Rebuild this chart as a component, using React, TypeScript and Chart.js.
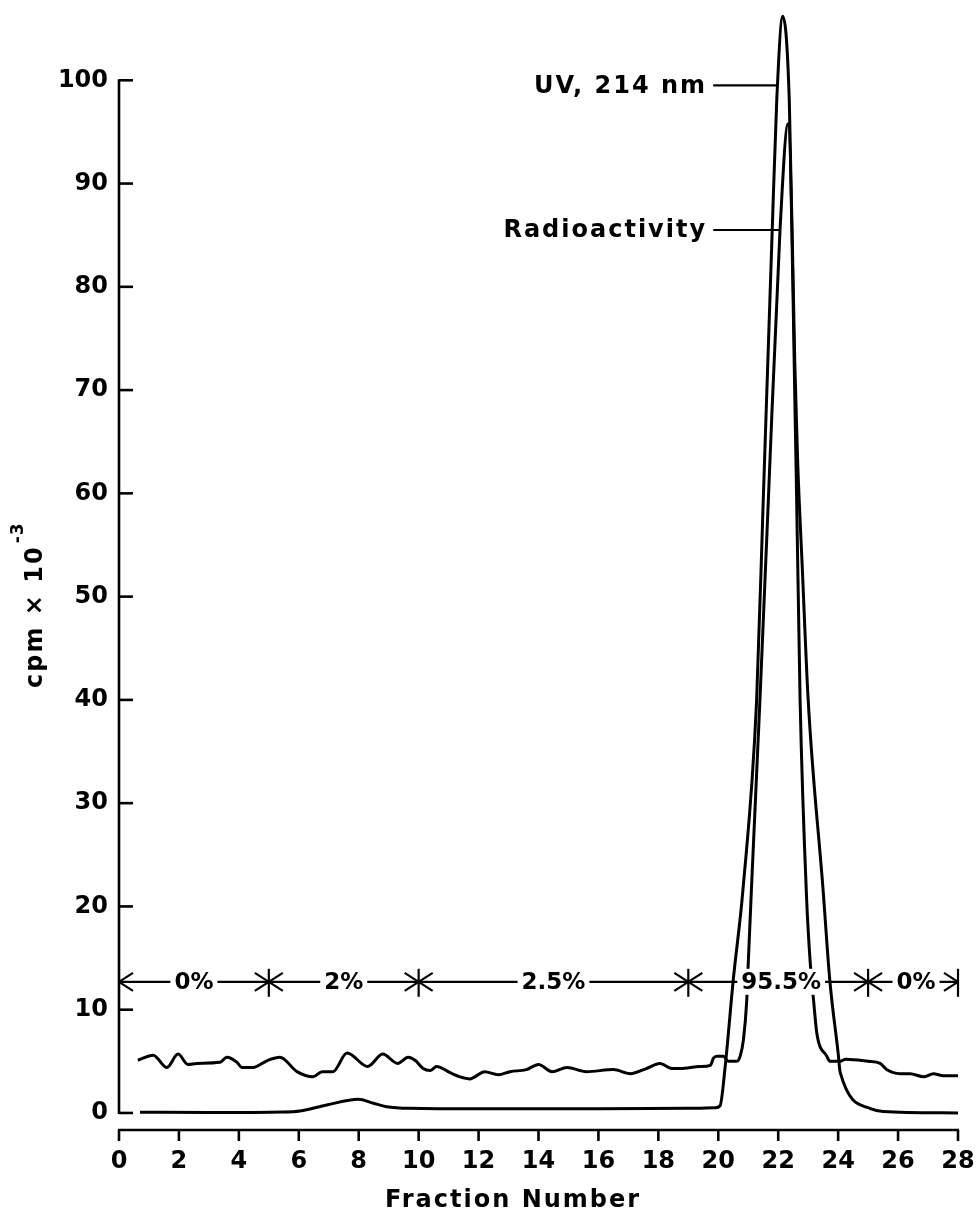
import React, { useEffect, useRef } from 'react';
import { Chart, registerables } from 'chart.js';

Chart.register(...registerables);

// ---- data ----
const uvX = [0.7, 3, 5.5, 6.04, 6.93, 7.99, 8.49, 8.93, 9.71, 12, 16, 19, 19.9, 20.06, 20.23, 20.5, 20.82, 21.28, 21.5, 21.8, 21.95, 22.15, 22.37, 22.55, 22.65, 22.8, 23.0, 23.5, 23.72, 24.0, 24.07, 25.1, 25.5, 28];
const uvY = [0.07, 0.05, 0.1, 0.2, 0.77, 1.33, 0.94, 0.61, 0.45, 0.4, 0.4, 0.45, 0.5, 0.7, 4.5, 12.9, 21.5, 40, 59.3, 85.5, 98, 106.2, 98, 73, 63, 53, 40, 21.5, 12.9, 5.8, 3.9, 0.4, 0.15, 0.0];

const radX = [0.63, 1.14, 1.6, 1.97, 2.3, 2.6, 3.37, 3.6, 3.94, 4.1, 4.47, 4.97, 5.37, 5.94, 6.48, 6.78, 7.14, 7.61, 8.3, 8.8, 9.3, 9.65, 9.88, 10.15, 10.38, 10.6, 11.05, 11.38, 11.72, 11.88, 12.2, 12.65, 13.05, 13.6, 14.0, 14.45, 14.95, 15.6, 16.5, 17.06, 17.6, 18.05, 18.46, 18.73, 19.39, 19.73, 19.84, 19.95, 20.17, 20.34, 20.62, 20.73, 20.84, 20.95, 21.0, 21.12, 21.39, 21.67, 22.06, 22.33, 22.6, 22.73, 22.95, 23.07, 23.18, 23.29, 23.62, 23.73, 24.07, 24.25, 25.0, 25.4, 25.62, 26.07, 26.4, 26.85, 27.18, 27.51, 28.0];
const radY = [5.1, 5.6, 4.4, 5.7, 4.7, 4.8, 4.9, 5.4, 4.9, 4.4, 4.4, 5.1, 5.4, 4.0, 3.5, 4.0, 4.0, 5.8, 4.5, 5.7, 4.8, 5.4, 5.1, 4.3, 4.1, 4.5, 3.9, 3.5, 3.3, 3.5, 4.0, 3.7, 4.0, 4.2, 4.7, 4.0, 4.4, 4.0, 4.2, 3.8, 4.3, 4.8, 4.3, 4.3, 4.5, 4.6, 5.3, 5.5, 5.5, 5.0, 5.0, 5.5, 7.1, 10.9, 14.5, 22.6, 40, 59.3, 85.5, 95.8, 62, 40, 20.6, 14.5, 10.9, 7.7, 5.5, 5.0, 5.0, 5.2, 5.0, 4.8, 4.2, 3.8, 3.8, 3.5, 3.8, 3.6, 3.6];

const xTicks = [0, 2, 4, 6, 8, 10, 12, 14, 16, 18, 20, 22, 24, 26, 28];
const yTicks = [0, 10, 20, 30, 40, 50, 60, 70, 80, 90, 100];

const stepBounds = [0, 5, 10, 19, 25, 28];
const stepLabels = ['0%', '2%', '2.5%', '95.5%', '0%'];
const stepLabelX = [2.5, 7.5, 14.5, 22.1, 26.6];
const stepLevel = 12.7;

const seriesNames = ['UV, 214 nm', 'Radioactivity'];
const seriesNameY = [99.5, 85.5];
const seriesPointerEnd = [21.93, 22.06];
const nameRightX = 19.56;
const pointerStartX = 19.83;

const xTitle = 'Fraction Number';
const yTitleMain = 'cpm × 10';
const yTitleSup = '-3';

const FONT = '"DejaVu Sans", "Liberation Sans", sans-serif';

const paperPlugin = {
  id: 'paperAxes',
  afterDatasetsDraw(chart: any) {
    const { ctx, chartArea } = chart;
    const xs = chart.scales.x;
    const ys = chart.scales.y;
    const line = (x1: number, y1: number, x2: number, y2: number) => {
      ctx.beginPath();
      ctx.moveTo(x1, y1);
      ctx.lineTo(x2, y2);
      ctx.stroke();
    };
    ctx.save();
    ctx.strokeStyle = '#000';
    ctx.fillStyle = '#000';
    ctx.lineWidth = 2.6;
    ctx.lineCap = 'butt';

    // y axis (0..100) with inward ticks
    const x0 = xs.getPixelForValue(0);
    line(x0, ys.getPixelForValue(100) - 1, x0, ys.getPixelForValue(0) + 1);
    yTicks.forEach((v) => {
      const y = ys.getPixelForValue(v);
      line(x0, y, x0 + 14, y);
    });

    // detached x axis with downward ticks
    const yb = chartArea.bottom;
    line(x0 - 1, yb, xs.getPixelForValue(28) + 1, yb);
    xTicks.forEach((v) => {
      const x = xs.getPixelForValue(v);
      line(x, yb, x, yb + 11);
    });

    // gradient steps bar
    const ysl = ys.getPixelForValue(stepLevel);
    ctx.lineWidth = 2.2;
    line(xs.getPixelForValue(stepBounds[0]), ysl, xs.getPixelForValue(stepBounds[stepBounds.length - 1]), ysl);
    const aw = 14, ah = 9;
    stepBounds.forEach((b, i) => {
      const x = xs.getPixelForValue(b);
      if (i > 0) {
        line(x - aw, ysl - ah, x, ysl);
        line(x - aw, ysl + ah, x, ysl);
      }
      if (i < stepBounds.length - 1) {
        line(x + aw, ysl - ah, x, ysl);
        line(x + aw, ysl + ah, x, ysl);
      }
      if (i > 0) line(x, ysl - 13, x, ysl + 15);
    });
    ctx.font = `bold 23px ${FONT}`;
    ctx.textAlign = 'center';
    ctx.textBaseline = 'middle';
    stepLabels.forEach((t, i) => {
      const x = xs.getPixelForValue(stepLabelX[i]);
      const w = ctx.measureText(t).width;
      ctx.fillStyle = '#fff';
      ctx.fillRect(x - w / 2 - 4, ysl - 13, w + 8, 26);
      ctx.fillStyle = '#000';
      ctx.fillText(t, x, ysl + 1);
    });

    // series name labels with pointer lines
    ctx.font = `bold 24px ${FONT}`;
    (ctx as any).letterSpacing = '2px';
    ctx.textAlign = 'right';
    seriesNames.forEach((t, i) => {
      const y = ys.getPixelForValue(seriesNameY[i]);
      ctx.fillText(t, xs.getPixelForValue(nameRightX) + 2, y + 1);
      line(xs.getPixelForValue(pointerStartX), y, xs.getPixelForValue(seriesPointerEnd[i]), y);
    });

    // x title
    ctx.textAlign = 'center';
    ctx.fillText(xTitle, xs.getPixelForValue(13.15), yb + 71);

    // y title, rotated
    ctx.save();
    ctx.translate(42, 688);
    ctx.rotate(-Math.PI / 2);
    ctx.textAlign = 'left';
    ctx.textBaseline = 'alphabetic';
    ctx.fillText(yTitleMain, 0, 0);
    const w = ctx.measureText(yTitleMain).width;
    ctx.font = `bold 17px ${FONT}`;
    (ctx as any).letterSpacing = '1px';
    ctx.fillText(yTitleSup, w + 2, -19);
    ctx.restore();

    ctx.restore();
  },
};

export default function App() {
  const ref = useRef<HTMLCanvasElement | null>(null);
  useEffect(() => {
    if (!ref.current) return;
    const tickFont = { family: FONT, size: 24, weight: 'bold' as const };
    const chart = new Chart(ref.current, {
      type: 'line',
      data: {
        datasets: [
          {
            label: seriesNames[0],
            data: uvX.map((x, i) => ({ x, y: uvY[i] })),
            borderColor: '#000',
            borderWidth: 3,
            pointRadius: 0,
            fill: false,
            cubicInterpolationMode: 'monotone',
          },
          {
            label: seriesNames[1],
            data: radX.map((x, i) => ({ x, y: radY[i] })),
            borderColor: '#000',
            borderWidth: 3,
            pointRadius: 0,
            fill: false,
            cubicInterpolationMode: 'monotone',
          },
        ],
      },
      options: {
        animation: false,
        responsive: false,
        devicePixelRatio: 1,
        layout: { padding: { top: 8, right: 21, left: 0, bottom: 0 } },
        plugins: { legend: { display: false }, tooltip: { enabled: false } },
        events: [],
        scales: {
          x: {
            type: 'linear',
            min: 0,
            max: 28,
            position: 'bottom',
            grid: { display: false, drawTicks: false },
            border: { display: false },
            afterBuildTicks: (s: any) => {
              s.ticks = xTicks.map((v) => ({ value: v }));
            },
            afterFit: (s: any) => {
              s.height = 88;
              s.paddingLeft = 0;
              s.paddingRight = 0;
            },
            ticks: { font: tickFont, color: '#000', padding: 17, maxRotation: 0, autoSkip: false },
          },
          y: {
            type: 'linear',
            min: -1.65,
            max: 107,
            grid: { display: false, drawTicks: false },
            border: { display: false },
            afterBuildTicks: (s: any) => {
              s.ticks = yTicks.map((v) => ({ value: v }));
            },
            afterFit: (s: any) => {
              s.width = 119;
              s.paddingTop = 0;
              s.paddingBottom = 0;
            },
            ticks: { font: tickFont, color: '#000', padding: 11 },
          },
        },
      },
      plugins: [paperPlugin],
    } as any);
    return () => chart.destroy();
  }, []);
  return (
    <div style={{ position: 'absolute', left: 0, top: 0, width: 979, height: 1218, background: '#fff' }}>
      <canvas ref={ref} width={979} height={1218} />
    </div>
  );
}
